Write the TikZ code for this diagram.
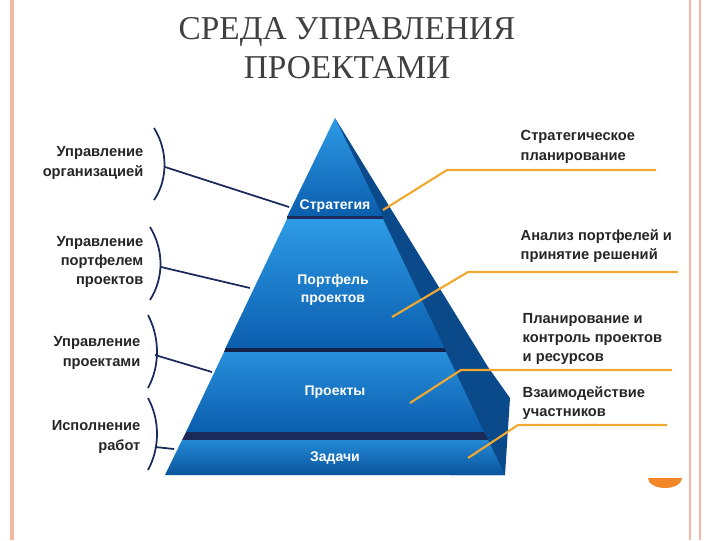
\documentclass[tikz,border=0pt]{standalone}
\usepackage{fontspec}
\setmainfont{Liberation Serif}
\newfontfamily\lbl{Liberation Sans}
\definecolor{frontA}{HTML}{2E9BE6}
\definecolor{frontB}{HTML}{0B5EAE}
\definecolor{sideC}{HTML}{0A4A8A}
\definecolor{orng}{HTML}{F0A830}
\definecolor{brd}{HTML}{F4B8A0}
\definecolor{navy}{HTML}{1A2A5A}
\begin{document}
\begin{tikzpicture}[x=0.75pt,y=-0.75pt,
  lt/.style={font=\lbl\bfseries\fontsize{11}{14.5}\selectfont,align=right,anchor=east,text=black!85},
  rt/.style={font=\lbl\bfseries\fontsize{11}{14.5}\selectfont,align=left,anchor=west,text=black!85},
  tier/.style={font=\lbl\bfseries\fontsize{10.5}{14}\selectfont,text=white,align=center},
  ol/.style={orng,line width=1.6pt},
  bl/.style={navy,line width=1.3pt},
  br/.style={navy,line width=1.3pt}]
\useasboundingbox (0,0) rectangle (720,540);
\fill[white] (0,0) rectangle (720,540);
\draw[brd,line width=3pt] (12,0) -- (12,540);
\draw[brd,line width=1.5pt] (690,0) -- (690,540);
\draw[brd,line width=1.5pt] (700,0) -- (700,540);
\fill[orng!80!red] (648,478) arc (180:0:17 and 10) -- cycle;
\node[font=\fontsize{25}{29}\selectfont,text=black!75,align=center] (title) at (347,48) {СРЕДА УПРАВЛЕНИЯ\\ПРОЕКТАМИ};
% side face
\fill[sideC] (335,118) -- (488,367) -- (510,398) -- (505,475) -- (450,475) -- cycle;
% tiers
\shade[top color=frontA,bottom color=frontB] (335,118) -- (382.6,216) -- (287.4,216) -- cycle;
\fill[navy] (287.4,216) rectangle (382.6,219);
\shade[top color=frontA,bottom color=frontB] (287,219) -- (383,219) -- (444.5,348) -- (225.5,348) -- cycle;
\fill[navy!80!black] (225.5,348) -- (444.5,348) -- (446,352) -- (224,352) -- cycle;
\shade[top color=frontA!80!frontB,bottom color=frontB] (224,352) -- (446,352) -- (484,432) -- (186,432) -- cycle;
\fill[navy] (186,432) -- (484,432) -- (488,440) -- (182,440) -- cycle;
\shade[top color=frontA!70!frontB,bottom color=frontB!90!black] (182,440) -- (488,440) -- (505,475) -- (165,475) -- cycle;
\node[tier] (t1) at (335,206) {Стратегия};
\node[tier] (t2) at (333,290) {Портфель\\проектов};
\node[tier] (t3) at (335,392) {Проекты};
\node[tier] (t4) at (335,458) {Задачи};
% left labels
\node[lt] (l1) at (148,163) {Управление\\организацией};
\node[lt] (l2) at (148,262) {Управление\\портфелем\\проектов};
\node[lt] (l3) at (145,353) {Управление\\проектами};
\node[lt] (l4) at (145,437) {Исполнение\\работ};
\draw[br] (154,128) .. controls (168,150) and (168,180) .. (154,200);
\draw[br] (150,227) .. controls (164,250) and (164,278) .. (150,300);
\draw[br] (148,315) .. controls (160,338) and (160,366) .. (148,388);
\draw[br] (148,398) .. controls (160,420) and (160,448) .. (148,470);
\coordinate (a1) at (165,167); \coordinate (b1) at (289,207);
\coordinate (a2) at (161,267); \coordinate (b2) at (250,288);
\coordinate (a3) at (155,355); \coordinate (b3) at (212,372);
\coordinate (a4) at (155,447); \coordinate (b4) at (174,449);
\draw[bl] (a1) -- (b1); \draw[bl] (a2) -- (b2); \draw[bl] (a3) -- (b3); \draw[bl] (a4) -- (b4);
% right labels
\node[rt] (r1) at (516,147) {Стратегическое\\планирование};
\node[rt] (r2) at (516,246) {Анализ портфелей и\\принятие решений};
\node[rt] (r3) at (518,339) {Планирование и\\контроль проектов\\и ресурсов};
\node[rt] (r4) at (518,403) {Взаимодействие\\участников};
\coordinate (p1) at (383,210); \coordinate (q1) at (447,170); \coordinate (s1) at (656,170);
\coordinate (p2) at (392,317); \coordinate (q2) at (468,272); \coordinate (s2) at (678,272);
\coordinate (p3) at (410,403); \coordinate (q3) at (461,370); \coordinate (s3) at (672,370);
\coordinate (p4) at (468,458); \coordinate (q4) at (518,425); \coordinate (s4) at (667,425);
\draw[ol] (p1) -- (q1) -- (s1);
\draw[ol] (p2) -- (q2) -- (s2);
\draw[ol] (p3) -- (q3) -- (s3);
\draw[ol] (p4) -- (q4) -- (s4);
\end{tikzpicture}
\end{document}
